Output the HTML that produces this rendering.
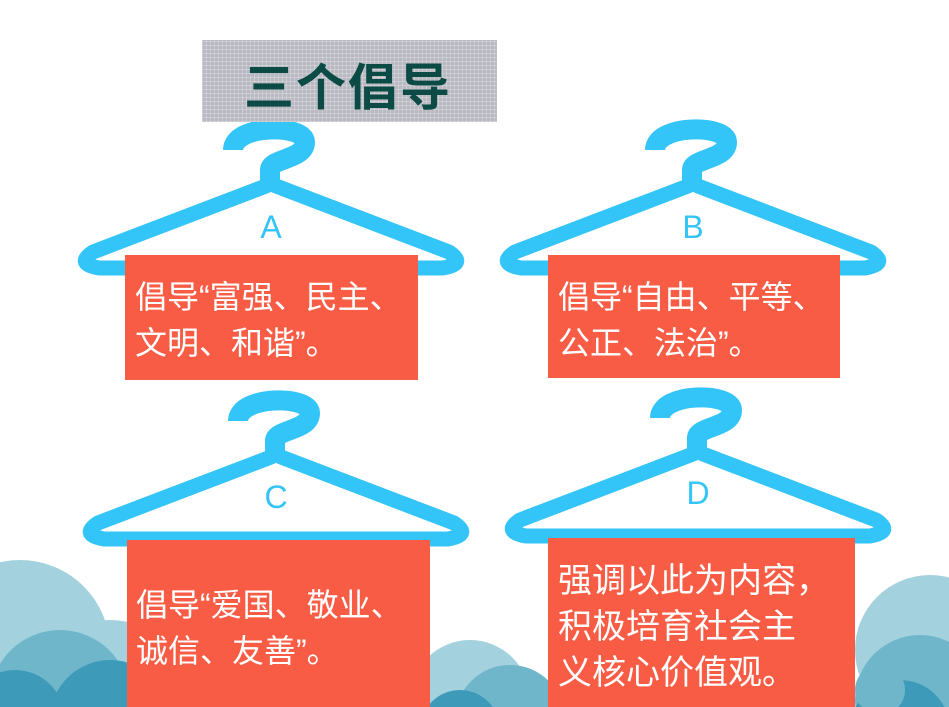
<!DOCTYPE html>
<html><head><meta charset="utf-8"><style>
html,body{margin:0;width:949px;height:707px;overflow:hidden}
body{background:#fff;position:relative;font-family:"Liberation Sans","Noto Sans CJK SC",sans-serif}
.box{position:absolute;background:#f95c45;color:#fff;overflow:hidden;font-family:"Liberation Sans","Noto Sans CJK SC",sans-serif}
.box div{position:absolute;white-space:nowrap}
.title{position:absolute;left:202px;top:40px;width:295px;height:82px;background-color:#b9b9c1;background-image:repeating-linear-gradient(0deg,rgba(255,255,255,.25) 0 1px,transparent 1px 4px),repeating-linear-gradient(90deg,rgba(255,255,255,.25) 0 1px,transparent 1px 4px)}
.title span{position:absolute;left:42px;top:14px;font-size:50px;font-weight:bold;color:#0b4a45;letter-spacing:2px;font-family:"Noto Sans CJK SC",sans-serif;line-height:60px}
</style></head><body>
<svg width="949" height="707" style="position:absolute;left:0;top:0">
<g>
<circle cx="20" cy="650" r="90" fill="#a3d2de"/>
<circle cx="110" cy="700" r="80" fill="#a3d2de"/>
<circle cx="60" cy="700" r="70" fill="#6fb6cb"/>
<circle cx="110" cy="720" r="60" fill="#3d9bb9"/>
<circle cx="15" cy="720" r="50" fill="#3d9bb9"/>
<circle cx="470" cy="700" r="60" fill="#a3d2de"/>
<circle cx="510" cy="720" r="55" fill="#6fb6cb"/>
<circle cx="460" cy="730" r="40" fill="#3d9bb9"/>
<circle cx="930" cy="650" r="75" fill="#a3d2de"/>
<circle cx="920" cy="700" r="65" fill="#6fb6cb"/>
<circle cx="900" cy="730" r="50" fill="#3d9bb9"/>
<circle cx="880" cy="690" r="25" fill="#6fb6cb"/>
</g>
<defs>
<g id="h" fill="none" stroke="#33c4f8" stroke-linejoin="round" stroke-linecap="round">
<path d="M -5,-6 L -178,60 Q -196,72 -172,76 L 172,76 Q 196,72 178,60 L 5,-6" stroke-width="15"/>
<path d="M -1,-6 L -1,-22 C -1,-34 34,-32 34,-50 C 34,-68 -38,-68 -38,-42" stroke-width="20" stroke-linecap="butt"/>
</g>
</defs>
<use href="#h" x="271" y="192"/>
<use href="#h" x="693" y="192"/>
<use href="#h" x="276" y="463"/>
<use href="#h" x="698" y="460"/>
<g font-family="Liberation Sans" font-size="32" fill="#33c4f8" text-anchor="middle">
<text x="271" y="238">A</text><text x="693" y="238">B</text>
<text x="276" y="508">C</text><text x="698" y="504">D</text>
</g>
</svg>
<div class="title"><span>三个倡导</span></div>
<div class="box" style="left:125px;top:255px;width:293px;height:125px;font-size:32px;line-height:46px"><div style="left:10px;top:19px">倡导“富强、民主、<br>文明、和谐”。</div></div>
<div class="box" style="left:548px;top:255px;width:292px;height:123px;font-size:32px;line-height:46px"><div style="left:10px;top:19px">倡导“自由、平等、<br>公正、法治”。</div></div>
<div class="box" style="left:127px;top:540px;width:303px;height:167px;font-size:32px;line-height:46px"><div style="left:9px;top:42px">倡导“爱国、敬业、<br>诚信、友善”。</div></div>
<div class="box" style="left:548px;top:538px;width:307px;height:169px;font-size:34px;line-height:46px"><div style="left:10px;top:20px">强调以此为内容，<br>积极培育社会主<br>义核心价值观。</div></div>
</body></html>
